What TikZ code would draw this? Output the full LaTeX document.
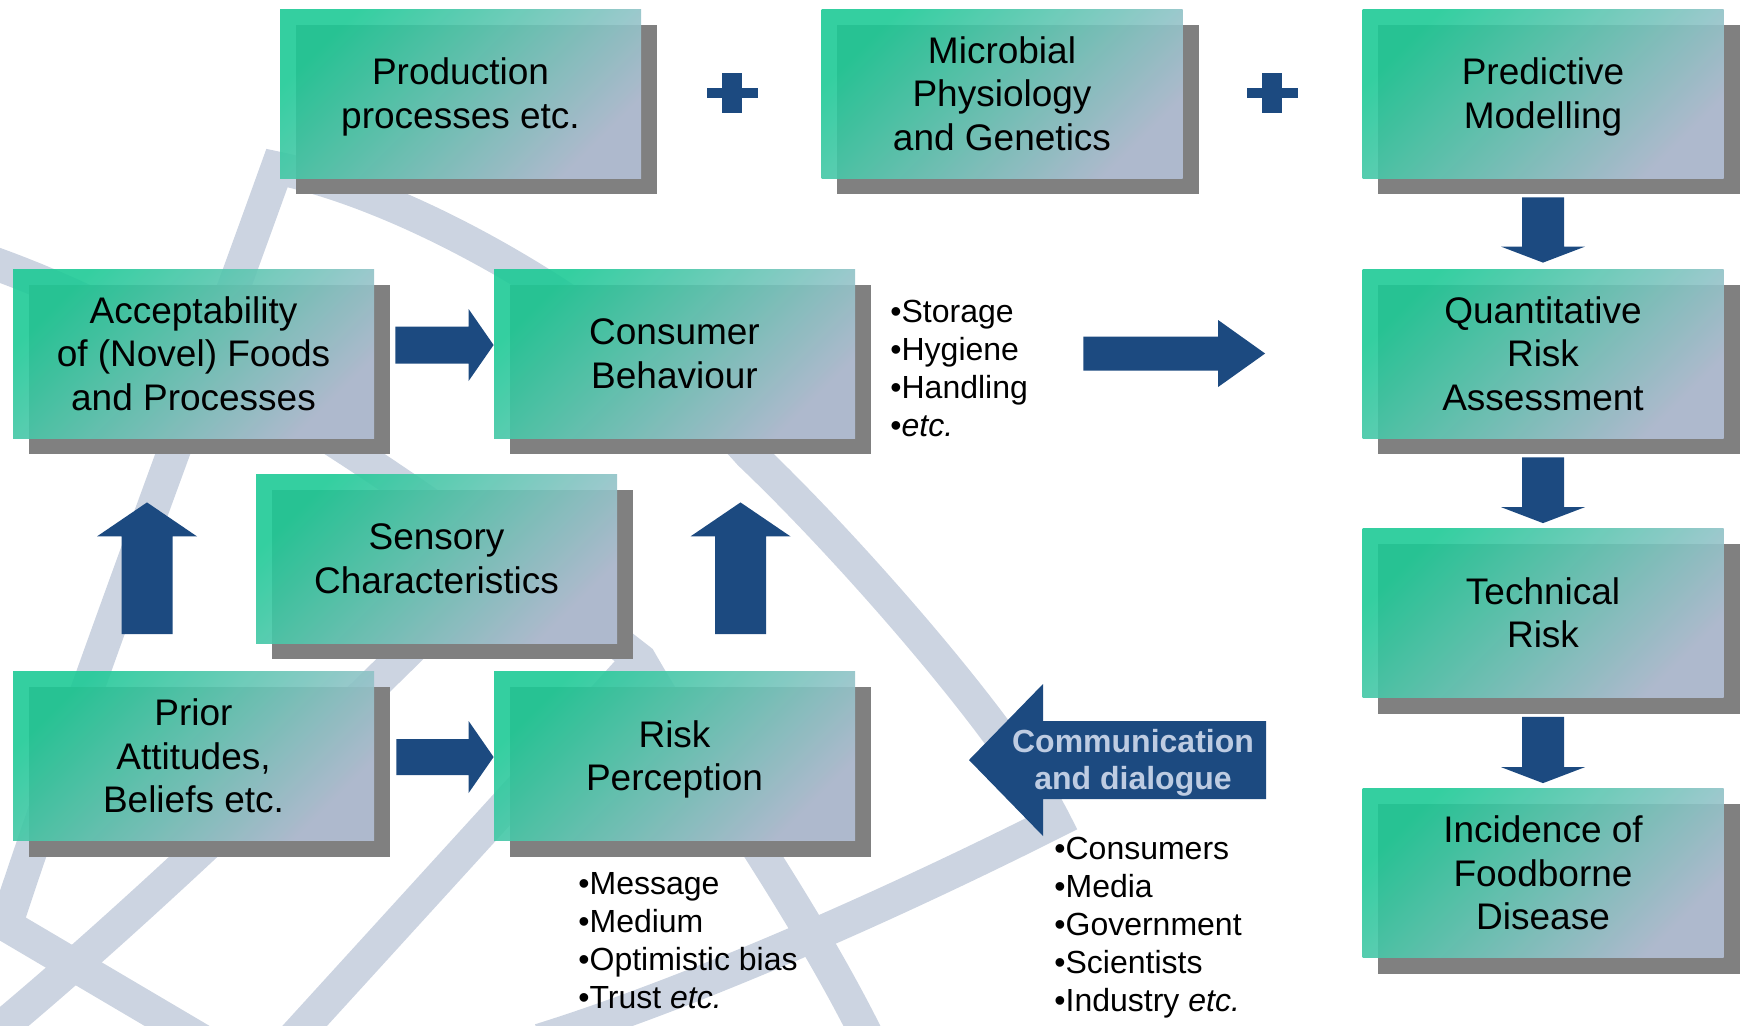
\documentclass[tikz,border=0pt]{standalone}
\usepackage{fontspec}
\setmainfont{Liberation Sans}
\usetikzlibrary{calc}

\definecolor{arrowblue}{RGB}{28,74,128}
\definecolor{bandgrey}{RGB}{204,212,225}
\definecolor{boxteal}{RGB}{30,202,150}
\definecolor{boxlav}{RGB}{180,192,214}
\definecolor{boxshadow}{RGB}{128,128,128}
\definecolor{commtext}{RGB}{190,204,226}

\pgfdeclarelayer{background}
\pgfsetlayers{background,main}

% first line of a box
\newcommand{\boxtop}{\rule{0pt}{17.2pt}}

% block arrow: start, tip, half shaft, half head, head length (px)
\newcommand{\bigarrow}[5]{%
    \fill[arrowblue] let \p1=(#1), \p2=(#2),
        \n1={atan2(\y2-\y1,\x2-\x1)}, \n2={veclen(\x2-\x1,\y2-\y1)} in
        [shift={(\p1)}, rotate=\n1]
        (0pt,#3*0.5pt) -- (\n2-#5*0.5pt,#3*0.5pt) -- (\n2-#5*0.5pt,#4*0.5pt)
        -- (\n2,0pt) -- (\n2-#5*0.5pt,-#4*0.5pt) -- (\n2-#5*0.5pt,-#3*0.5pt)
        -- (0pt,-#3*0.5pt) -- cycle;%
}

\begin{document}
\begin{tikzpicture}[x=0.5pt, y=-0.5pt,
    box/.style={minimum width=180.5pt, minimum height=84.5pt, inner sep=0pt,
        align=center, left color=boxteal, right color=boxlav, shading angle=45,
        fill opacity=0.9, text opacity=1, font=\fontsize{18.5}{21.75}\selectfont,
        execute at end node={\rule[-4pt]{0pt}{4pt}}},
    bullets/.style={anchor=north west, align=left, inner sep=0pt,
        font=\fontsize{16}{19}\selectfont},
    band/.style={draw=bandgrey, line width=16.5pt, line join=miter, miter limit=10}]
    \useasboundingbox (0,0) rectangle (1751,1025);
    % boxes
    \node[box] (prod) at (460.5,93.5) {\boxtop Production\\processes etc.};
    \node[box] (micro) at (1002,93.5) {\boxtop Microbial\\Physiology\\and Genetics};
    \node[box] (pred) at (1543,93.5) {\boxtop Predictive\\Modelling};
    \node[box] (accept) at (193.5,353.5) {\boxtop Acceptability\\of (Novel) Foods\\and Processes};
    \node[box] (consumer) at (674.5,353.5) {\boxtop Consumer\\Behaviour};
    \node[box] (qra) at (1543,353.5) {\boxtop Quantitative\\Risk\\Assessment};
    \node[box] (sensory) at (436.5,558.5) {\boxtop Sensory\\Characteristics};
    \node[box] (technical) at (1543,613) {\boxtop Technical\\Risk};
    \node[box] (prior) at (193.5,756) {\boxtop Prior\\Attitudes,\\Beliefs etc.};
    \node[box] (riskperc) at (674.5,756) {\boxtop Risk\\Perception};
    \node[box] (incidence) at (1543,873) {\boxtop Incidence of\\Foodborne\\Disease};
    % plus signs
    \foreach \px in {732,1272}{
        \fill[arrowblue] (\px-10,73) rectangle (\px+10,113);
        \fill[arrowblue] (\px-25.5,88) rectangle (\px+25.5,97.5);
    }
    % arrows between boxes
    \coordinate (a1s) at ($(accept.east)+(21,-8.5)$);
    \coordinate (a1e) at ($(consumer.west)+(0,-8.5)$);
    \bigarrow{a1s}{a1e}{18.5}{36}{25}
    \coordinate (a2s) at ($(prior.east)+(22,1)$);
    \coordinate (a2e) at ($(riskperc.west)+(0,1)$);
    \bigarrow{a2s}{a2e}{18}{36}{25}
    \coordinate (a3s) at ($(prior.north)+(-46.5,-37)$);
    \coordinate (a3e) at ($(accept.south)+(-46.5,64)$);
    \bigarrow{a3s}{a3e}{25.5}{50}{34}
    \coordinate (a4s) at ($(riskperc.north)+(66,-37)$);
    \coordinate (a4e) at ($(consumer.south)+(66,64)$);
    \bigarrow{a4s}{a4e}{25.5}{50}{34}
    \coordinate (a5s) at ($(consumer.east)+(228,0)$);
    \coordinate (a5e) at ($(qra.west)+(-97,0)$);
    \bigarrow{a5s}{a5e}{17}{33.5}{47}
    \coordinate (d1s) at ($(pred.south)+(0,19)$);
    \coordinate (d1e) at ($(qra.north)+(0,-6)$);
    \bigarrow{d1s}{d1e}{21}{42}{16}
    \coordinate (d2s) at ($(qra.south)+(0,19)$);
    \coordinate (d2e) at ($(technical.north)+(0,-5)$);
    \bigarrow{d2s}{d2e}{21}{42}{16}
    \coordinate (d3s) at ($(technical.south)+(0,19)$);
    \coordinate (d3e) at ($(incidence.north)+(0,-5)$);
    \bigarrow{d3s}{d3e}{21}{42}{16}
    % communication arrow
    \coordinate (c1s) at (1266,760);
    \coordinate (c1e) at (969,760);
    \bigarrow{c1s}{c1e}{39}{76}{74}
    \node[font=\bfseries\fontsize{16}{18.5}\selectfont, text=commtext, align=center,
        yshift=-1.6pt] (comm) at (1133,760) {Communication\\and dialogue};
    % bullet lists
    \node[bullets] (handling) at (890,295.4) {\strut•Storage\\•Hygiene\\•Handling\\•\textit{etc.}};
    \node[bullets] (message) at (578,867.4) {\strut•Message\\•Medium\\•Optimistic bias\\•Trust \textit{etc.}};
    \node[bullets] (actors) at (1054,832.4) {\strut•Consumers\\•Media\\•Government\\•Scientists\\•Industry \textit{etc.}};
    % background curves and shadows
    \begin{pgfonlayer}{background}
        \begin{scope}
            \clip (0,0) rectangle (1751,1025);
            \draw[band] (201,1040) -- (6,925) .. controls (80,700) and (190,410) .. (277,168)
                .. controls (430,200) and (640,330) .. (750,454)
                .. controls (850,549) and (1010,732) .. (1055,822)
                .. controls (900,900) and (700,990) .. (540,1040);
            \draw[band] (-30,255) .. controls (200,330) and (480,535) .. (640,660)
                .. controls (700,765) and (800,900) .. (870,1042);
            \draw[band] (-20,1045) .. controls (120,930) and (300,760) .. (520,540);
            \draw[band] (640,658) -- (290,1042);
        \end{scope}
        \foreach \b in {prod,micro,pred,accept,consumer,qra,sensory,technical,prior,riskperc,incidence}
            \fill[boxshadow] ($(\b.north west)+(16,16)$) rectangle ($(\b.south east)+(16,16)$);
    \end{pgfonlayer}
\end{tikzpicture}
\end{document}
